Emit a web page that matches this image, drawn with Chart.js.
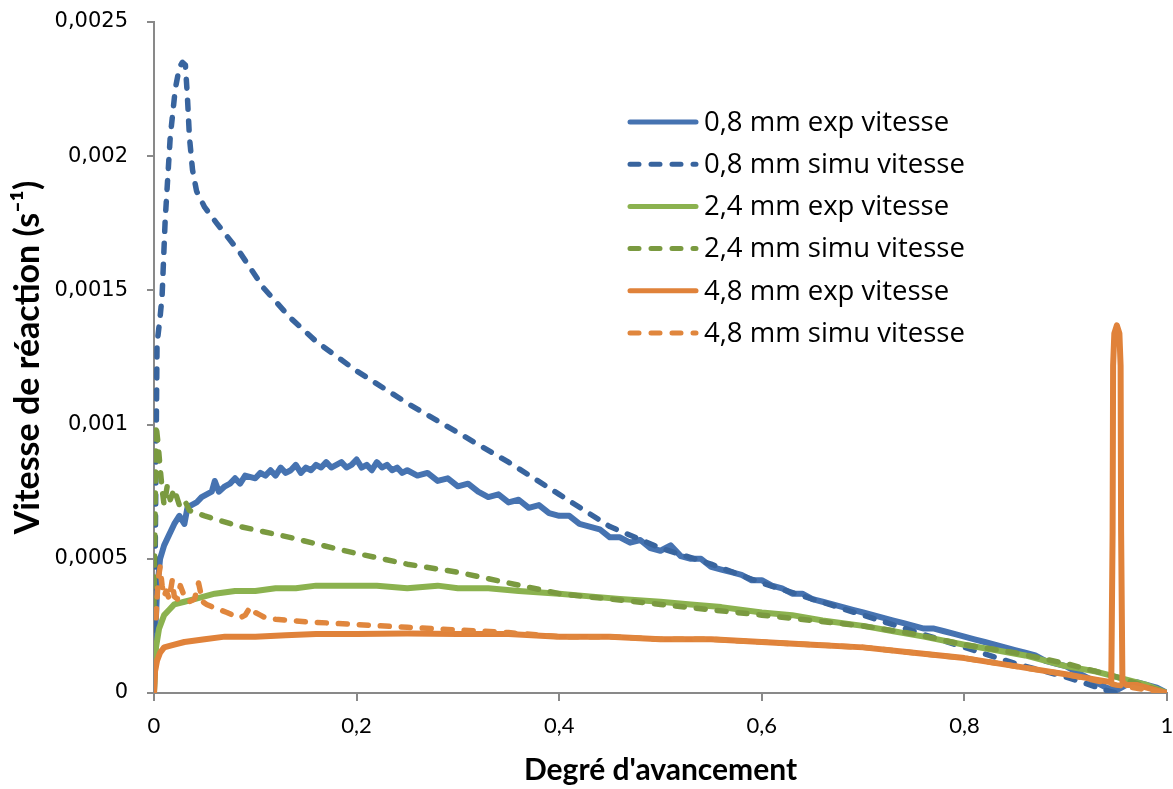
<!DOCTYPE html>
<html>
<head>
<meta charset="utf-8">
<script src="https://cdn.jsdelivr.net/npm/chart.js@4/dist/chart.umd.min.js"></script>
<style>
  html, body { margin: 0; padding: 0; background: #fff; }
  canvas { display: block; }
</style>
</head>
<body>
<canvas id="vitesseChart" width="1173" height="789"></canvas>
<script>
// ticks
const xTicks = [0, 0.2, 0.4, 0.6, 0.8, 1];
const xTickLabels = ['0', '0,2', '0,4', '0,6', '0,8', '1'];
const yTicks = [0, 0.0005, 0.001, 0.0015, 0.002, 0.0025];
const yTickLabels = ['0', '0,0005', '0,001', '0,0015', '0,002', '0,0025'];

const seriesNames = [
    '0,8 mm exp vitesse', '0,8 mm simu vitesse',
    '2,4 mm exp vitesse', '2,4 mm simu vitesse',
    '4,8 mm exp vitesse', '4,8 mm simu vitesse'
];

// 0,8 mm exp
const exp08X = [0, 0.001, 0.003, 0.006, 0.01, 0.015, 0.02, 0.025, 0.03, 0.033, 0.037, 0.042, 0.047, 0.052, 0.057, 0.06, 0.064, 0.07, 0.075, 0.08, 0.085, 0.09, 0.1, 0.105, 0.11, 0.115, 0.12, 0.125, 0.13, 0.135, 0.14, 0.145, 0.15, 0.155, 0.16, 0.165, 0.17, 0.175, 0.18, 0.185, 0.19, 0.195, 0.2, 0.205, 0.21, 0.215, 0.22, 0.225, 0.23, 0.235, 0.24, 0.245, 0.25, 0.26, 0.27, 0.28, 0.29, 0.3, 0.31, 0.32, 0.33, 0.34, 0.35, 0.36, 0.37, 0.38, 0.39, 0.4, 0.41, 0.42, 0.43, 0.44, 0.45, 0.46, 0.47, 0.48, 0.49, 0.5, 0.51, 0.52, 0.53, 0.54, 0.55, 0.56, 0.57, 0.58, 0.59, 0.6, 0.61, 0.62, 0.63, 0.64, 0.65, 0.66, 0.67, 0.68, 0.69, 0.7, 0.71, 0.72, 0.73, 0.74, 0.75, 0.76, 0.77, 0.78, 0.79, 0.8, 0.81, 0.82, 0.83, 0.84, 0.85, 0.86, 0.87, 0.88, 0.89, 0.9, 0.91, 0.92, 0.93, 0.94, 0.95, 0.96, 0.97, 0.98, 0.99, 1];
const exp08Y = [0, 0.00020, 0.00038, 0.00050, 0.00055, 0.00059, 0.00063, 0.00066, 0.00063, 0.00069, 0.00070, 0.00071, 0.00073, 0.00074, 0.00075, 0.00079, 0.00075, 0.00077, 0.00078, 0.00080, 0.00078, 0.00081, 0.00080, 0.00082, 0.00081, 0.00083, 0.00081, 0.00084, 0.00082, 0.00083, 0.00085, 0.00082, 0.00084, 0.00083, 0.00085, 0.00084, 0.00086, 0.00084, 0.00085, 0.00086, 0.00084, 0.00085, 0.00087, 0.00084, 0.00085, 0.00083, 0.00086, 0.00084, 0.00085, 0.00083, 0.00084, 0.00082, 0.00083, 0.00081, 0.00082, 0.00079, 0.00080, 0.00077, 0.00078, 0.00075, 0.00073, 0.00074, 0.00071, 0.00072, 0.00069, 0.00070, 0.00067, 0.00066, 0.00066, 0.00063, 0.00062, 0.00061, 0.00058, 0.00058, 0.00056, 0.00057, 0.00054, 0.00053, 0.00055, 0.00051, 0.00050, 0.00050, 0.00047, 0.00046, 0.00045, 0.00044, 0.00042, 0.00042, 0.00040, 0.00039, 0.00037, 0.00037, 0.00035, 0.00034, 0.00033, 0.00032, 0.00031, 0.00030, 0.00029, 0.00028, 0.00027, 0.00026, 0.00025, 0.00024, 0.00024, 0.00023, 0.00022, 0.00021, 0.00020, 0.00019, 0.00018, 0.00017, 0.00016, 0.00015, 0.00014, 0.00012, 0.00011, 0.00010, 0.00008, 0.00006, 0.00004, 0.00002, 0.00001, 0.00003, 0.00004, 0.00003, 0.00002, 0];

// 0,8 mm simu
const sim08X = [0, 0.003, 0.006, 0.008, 0.011, 0.016, 0.021, 0.025, 0.028, 0.031, 0.033, 0.035, 0.038, 0.042, 0.05, 0.062, 0.085, 0.108, 0.134, 0.16, 0.2, 0.25, 0.3, 0.35, 0.4, 0.45, 0.5, 0.55, 0.6, 0.65, 0.7, 0.75, 0.8, 0.85, 0.9, 0.94, 0.95];
const sim08Y = [0, 0.0013, 0.0014, 0.00148, 0.00176, 0.00207, 0.00225, 0.00233, 0.00235, 0.00234, 0.00222, 0.00207, 0.00195, 0.00187, 0.00181, 0.00175, 0.00164, 0.00151, 0.0014, 0.00131, 0.00120, 0.00108, 0.00097, 0.00086, 0.00074, 0.00062, 0.00054, 0.00048, 0.00041, 0.00035, 0.00029, 0.00023, 0.00017, 0.00011, 0.00006, 0.00001, 0];

// 2,4 mm exp
const exp24X = [0, 0.002, 0.005, 0.01, 0.015, 0.02, 0.03, 0.04, 0.05, 0.06, 0.08, 0.1, 0.12, 0.14, 0.16, 0.18, 0.2, 0.22, 0.25, 0.28, 0.3, 0.33, 0.36, 0.4, 0.43, 0.46, 0.5, 0.53, 0.56, 0.6, 0.63, 0.66, 0.7, 0.73, 0.76, 0.8, 0.83, 0.86, 0.9, 0.93, 0.96, 0.98, 1];
const exp24Y = [0, 0.00017, 0.00024, 0.00029, 0.00031, 0.00033, 0.00034, 0.00035, 0.00036, 0.00037, 0.00038, 0.00038, 0.00039, 0.00039, 0.0004, 0.0004, 0.0004, 0.0004, 0.00039, 0.0004, 0.00039, 0.00039, 0.00038, 0.00037, 0.00036, 0.00035, 0.00034, 0.00033, 0.00032, 0.0003, 0.00029, 0.00027, 0.00025, 0.00023, 0.00021, 0.00018, 0.00016, 0.00014, 0.0001, 0.00008, 0.00005, 0.00003, 0];

// 2,4 mm simu
const sim24X = [0, 0.002, 0.004, 0.006, 0.008, 0.01, 0.013, 0.016, 0.02, 0.025, 0.03, 0.035, 0.05, 0.085, 0.134, 0.177, 0.2, 0.25, 0.3, 0.35, 0.4, 0.45, 0.5, 0.55, 0.6, 0.65, 0.7, 0.75, 0.8, 0.85, 0.9, 0.95, 1];
const sim24Y = [0.00032, 0.001, 0.00093, 0.00084, 0.00076, 0.0007, 0.00077, 0.00072, 0.00076, 0.0007, 0.00072, 0.00068, 0.00066, 0.00062, 0.00058, 0.00054, 0.00052, 0.00048, 0.00045, 0.00041, 0.00037, 0.00035, 0.00033, 0.00031, 0.00029, 0.00027, 0.00025, 0.00022, 0.00018, 0.00015, 0.00011, 0.00006, 0];

// 4,8 mm exp
const exp48X = [0, 0.001, 0.003, 0.006, 0.01, 0.02, 0.03, 0.05, 0.07, 0.1, 0.13, 0.16, 0.2, 0.25, 0.3, 0.35, 0.4, 0.45, 0.5, 0.55, 0.6, 0.65, 0.7, 0.75, 0.8, 0.85, 0.9, 0.93, 0.945, 0.9463, 0.9468, 0.948, 0.9505, 0.953, 0.9542, 0.9547, 0.956, 0.96, 0.97, 0.98, 1];
const exp48Y = [0, 0.00008, 0.00012, 0.00015, 0.00017, 0.00018, 0.00019, 0.0002, 0.00021, 0.00021, 0.000215, 0.00022, 0.00022, 0.000222, 0.00022, 0.00022, 0.00021, 0.00021, 0.0002, 0.0002, 0.00019, 0.00018, 0.00017, 0.00015, 0.00013, 0.0001, 0.00007, 0.00005, 0.00004, 0.0006, 0.00122, 0.00134, 0.00137, 0.00134, 0.00122, 0.0006, 0.00004, 0.00003, 0.00003, 0.00002, 0];

// 4,8 mm simu
const sim48X = [0.002, 0.004, 0.006, 0.008, 0.01, 0.012, 0.015, 0.018, 0.02, 0.023, 0.026, 0.03, 0.035, 0.04, 0.044, 0.048, 0.052, 0.058, 0.065, 0.072, 0.078, 0.085, 0.09, 0.095, 0.1, 0.105, 0.11, 0.12, 0.134, 0.15, 0.177, 0.2, 0.25, 0.3, 0.35, 0.4, 0.45, 0.5, 0.55, 0.6, 0.65, 0.7, 0.75, 0.8, 0.85, 0.9, 0.95, 1];
const sim48Y = [0.00028, 0.00042, 0.00047, 0.0004, 0.00036, 0.00038, 0.00035, 0.00042, 0.00036, 0.00035, 0.0004, 0.00036, 0.00034, 0.00035, 0.00041, 0.00034, 0.00033, 0.00032, 0.00031, 0.0003, 0.00029, 0.00028, 0.00029, 0.00032, 0.0003, 0.00029, 0.00028, 0.000275, 0.00027, 0.000265, 0.00026, 0.000255, 0.000245, 0.000235, 0.000225, 0.00021, 0.00021, 0.0002, 0.0002, 0.00019, 0.00018, 0.00017, 0.00015, 0.00013, 0.0001, 0.00007, 0.00003, 0];

const BLUE = '#4673B1', BLUE_D = '#38649E';
const GREEN = '#8BB24F', GREEN_D = '#7A9A40';
const ORANGE = '#E0823A', ORANGE_D = '#E0863D';
const DASH = [9, 12];

function pts(xs, ys) {
    return xs.map((x, i) => ({ x: x, y: ys[i] }));
}

function serie(i, xs, ys, color, dashed, width) {
    return {
        label: seriesNames[i],
        data: pts(xs, ys),
        borderColor: color,
        backgroundColor: color,
        borderWidth: width,
        borderDash: dashed ? DASH : [],
        borderCapStyle: 'round',
        borderJoinStyle: 'round',
        pointRadius: 0,
        tension: 0,
        fill: false,
        order: 6 - i   // later series drawn on top, as in Excel
    };
}

const datasets = [
    serie(0, exp08X, exp08Y, BLUE, false, 6),
    serie(1, sim08X, sim08Y, BLUE_D, true, 5.5),
    serie(2, exp24X, exp24Y, GREEN, false, 6),
    serie(3, sim24X, sim24Y, GREEN_D, true, 5.5),
    serie(4, exp48X, exp48Y, ORANGE, false, 6),
    serie(5, sim48X, sim48Y, ORANGE_D, true, 5.5)
];

// legend drawn inside the plot, like the Excel one
const insideLegend = {
    id: 'insideLegend',
    afterDraw(chart) {
        const c = chart.ctx;
        c.save();
        chart.data.datasets.forEach((ds, i) => {
            const y = 122 + i * 42.2;
            c.beginPath();
            c.strokeStyle = ds.borderColor;
            c.lineWidth = 5;
            c.lineCap = 'round';
            c.setLineDash(ds.borderDash);
            c.moveTo(630, y);
            c.lineTo(696, y);
            c.stroke();
            c.setLineDash([]);
            c.fillStyle = '#000';
            c.font = '27.5px "Open Sans"';
            c.textBaseline = 'middle';
            c.textAlign = 'left';
            c.fillText(ds.label, 704, y + 1);
        });
        c.restore();
    }
};

const axisGrey = '#898989';

new Chart(document.getElementById('vitesseChart'), {
    type: 'line',
    data: { datasets: datasets },
    plugins: [insideLegend],
    options: {
        responsive: false,
        animation: false,
        devicePixelRatio: 1,
        layout: { padding: { top: 22, right: 6, left: 0, bottom: 0 } },
        plugins: {
            legend: { display: false },
            tooltip: { enabled: false }
        },
        scales: {
            x: {
                type: 'linear',
                min: 0,
                max: 1,
                afterBuildTicks: s => { s.ticks = xTicks.map(v => ({ value: v })); },
                afterFit: s => { s.height = 96; s.paddingLeft = 0; s.paddingRight = 0; },
                ticks: {
                    callback: v => xTickLabels[xTicks.indexOf(v)],
                    font: { family: 'Lato', size: 22 },
                    color: '#000',
                    padding: 12,
                    maxRotation: 0,
                    autoSkip: false
                },
                grid: { drawOnChartArea: false, tickLength: 8, color: axisGrey, lineWidth: 2 },
                border: { color: axisGrey, width: 2 },
                title: {
                    display: true,
                    text: "Degré d'avancement",
                    font: { family: 'Lato', size: 30, weight: 'bold' },
                    color: '#000',
                    padding: { top: 0, bottom: 1 }
                }
            },
            y: {
                type: 'linear',
                min: 0,
                max: 0.0025,
                afterBuildTicks: s => { s.ticks = yTicks.map(v => ({ value: v })); },
                afterFit: s => { s.width = 154; s.paddingTop = 0; s.paddingBottom = 0; },
                ticks: {
                    callback: v => yTickLabels[yTicks.indexOf(v)],
                    font: { family: 'DejaVu Sans', size: 21 },
                    color: '#000',
                    padding: 19
                },
                grid: { drawOnChartArea: false, tickLength: 7, color: axisGrey, lineWidth: 2 },
                border: { color: axisGrey, width: 2 },
                title: {
                    display: true,
                    text: 'Vitesse de réaction (s⁻¹)',
                    font: { family: 'Lato', size: 34, weight: 'bold' },
                    color: '#000',
                    padding: { top: 8, bottom: 0 }
                }
            }
        }
    }
});
</script>
</body>
</html>
